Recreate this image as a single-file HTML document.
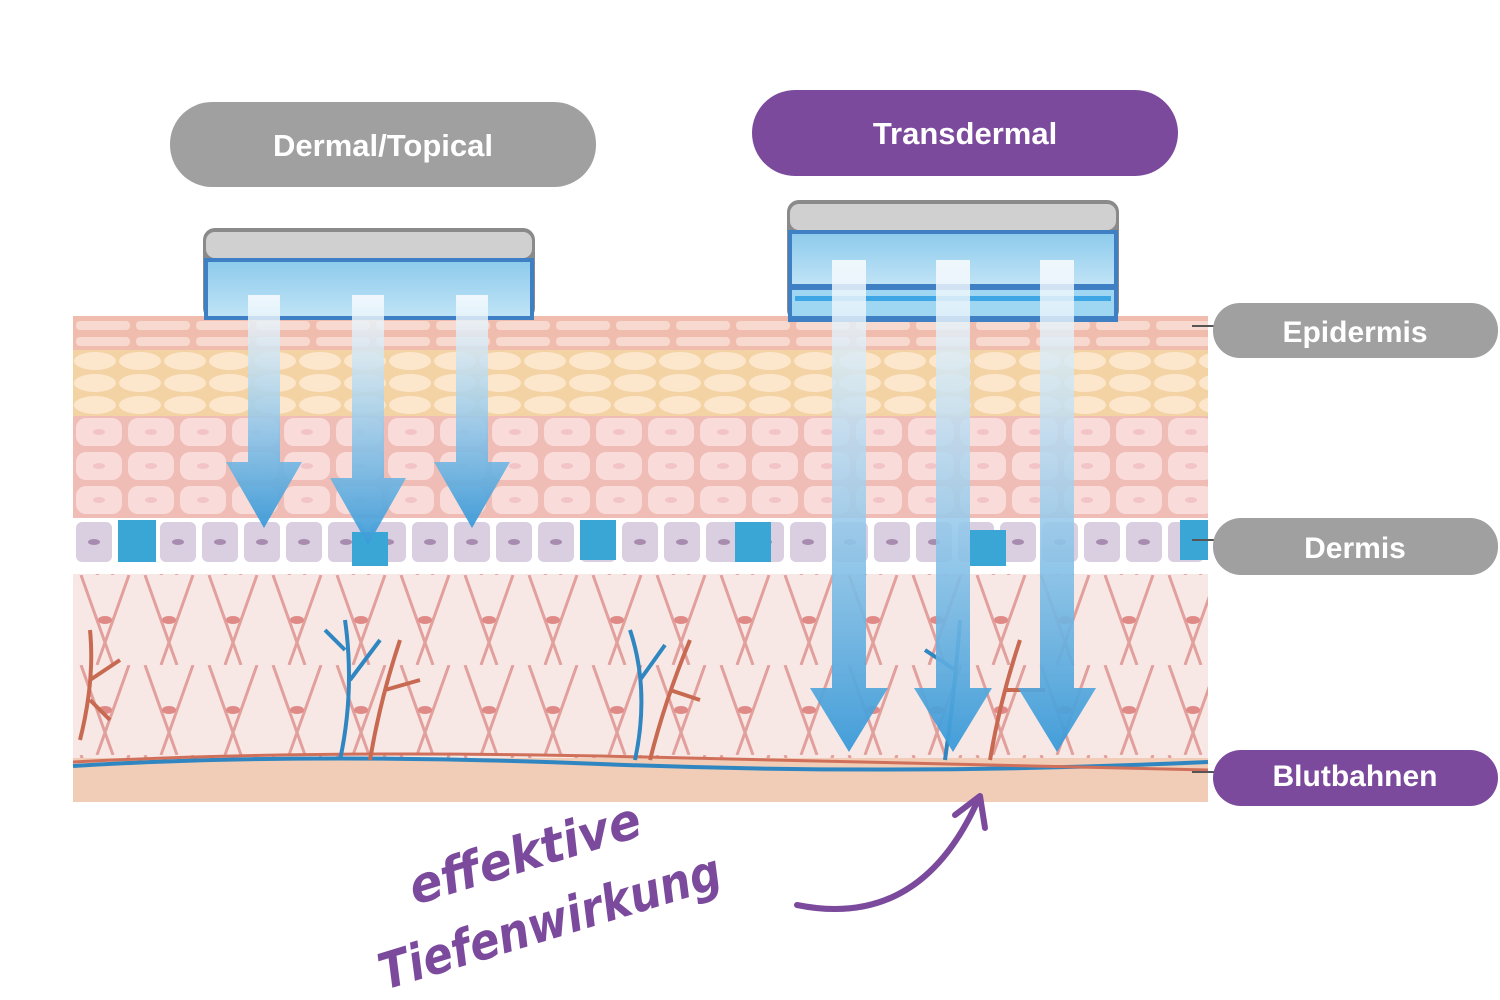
<!DOCTYPE html>
<html><head><meta charset="utf-8"><style>
html,body{margin:0;padding:0;background:#fff;width:1500px;height:1000px;overflow:hidden}
svg{display:block}
</style></head><body>
<svg width="1500" height="1000" viewBox="0 0 1500 1000" xmlns="http://www.w3.org/2000/svg">
<defs>
<pattern id="brick" x="73" y="318" width="60" height="16" patternUnits="userSpaceOnUse">
<rect width="60" height="16" fill="#efbcae"/>
<rect x="3" y="3" width="54" height="9" rx="4" fill="#f8d9cf"/>
</pattern>
<pattern id="orange" x="73" y="350" width="90" height="22" patternUnits="userSpaceOnUse">
<rect width="90" height="22" fill="#f3d2a4"/>
<ellipse cx="22" cy="11" rx="21" ry="9" fill="#fce6cc"/>
<ellipse cx="67" cy="11" rx="21" ry="9" fill="#fce6cc"/>
</pattern>
<pattern id="pink" x="73" y="415" width="52" height="34" patternUnits="userSpaceOnUse">
<rect width="52" height="34" fill="#f0bcb6"/>
<rect x="3" y="3" width="46" height="28" rx="10" fill="#f9dcd9"/>
<ellipse cx="26" cy="17" rx="6" ry="3" fill="#f2c4c8"/>
</pattern>
<pattern id="basal" x="73" y="518" width="42" height="50" patternUnits="userSpaceOnUse">
<rect width="42" height="50" fill="#fff"/>
<rect x="3" y="4" width="36" height="40" rx="6" fill="#d9cfe0"/>
<ellipse cx="21" cy="24" rx="6" ry="3" fill="#a78cb0"/>
</pattern>
<pattern id="fib" x="73" y="575" width="64" height="90" patternUnits="userSpaceOnUse">
<rect width="64" height="90" fill="#f7e8e6"/>
<path d="M8 0 L40 90 M56 0 L24 90" stroke="#e2a09c" stroke-width="3" fill="none"/>
<ellipse cx="32" cy="45" rx="7" ry="4" fill="#e08a88"/>
</pattern>
<linearGradient id="ag" x1="0" y1="0" x2="0" y2="1">
<stop offset="0" stop-color="#ffffff" stop-opacity="0.8"/>
<stop offset="1" stop-color="#3a9ad8" stop-opacity="0.95"/>
</linearGradient>
<linearGradient id="pg" x1="0" y1="0" x2="0" y2="1">
<stop offset="0" stop-color="#8ecbec"/><stop offset="1" stop-color="#bfe3f6"/>
</linearGradient>
</defs>

<rect x="73" y="316" width="1135" height="34" fill="url(#brick)"/>
<rect x="73" y="350" width="1135" height="66" fill="url(#orange)"/>
<rect x="73" y="416" width="1135" height="104" fill="url(#pink)"/>
<rect x="73" y="518" width="1135" height="52" fill="url(#basal)"/>
<g fill="#3aa6d6">
<rect x="118" y="520" width="38" height="42"/><rect x="352" y="532" width="36" height="36"/><rect x="580" y="520" width="36" height="40"/><rect x="735" y="522" width="36" height="40"/><rect x="970" y="530" width="36" height="36"/><rect x="1180" y="520" width="28" height="40"/>
</g>
<rect x="73" y="566" width="1135" height="8" fill="#fff"/>
<rect x="73" y="574" width="1135" height="186" fill="url(#fib)"/>
<rect x="73" y="758" width="1135" height="44" fill="#f1ccb6"/>
<path d="M73 766 Q300 752 600 764 T1208 762" stroke="#2f86c0" stroke-width="4" fill="none"/>
<path d="M73 762 Q300 750 600 756 T1208 770" stroke="#d0705a" stroke-width="3" fill="none"/>
<g stroke="#2f86c0" stroke-width="4" fill="none">
<path d="M340 760 Q355 690 345 620 M350 680 L380 640 M345 650 L325 630"/>
<path d="M635 760 Q650 690 630 630 M640 680 L665 645"/>
<path d="M945 760 Q955 690 960 620 M955 670 L925 650"/>
</g>
<g stroke="#c86a52" stroke-width="4" fill="none">
<path d="M80 740 Q95 680 90 630 M90 680 L120 660 M90 700 L110 720"/>
<path d="M370 760 Q380 700 400 640 M385 690 L420 680"/>
<path d="M650 760 Q665 700 690 640 M670 690 L700 700"/>
<path d="M990 760 Q1000 700 1020 640 M1005 690 L1045 690"/>
</g>

<rect x="203" y="228" width="332" height="92" rx="12" fill="#8a8a8a"/>
<rect x="206" y="232" width="326" height="26" rx="9" fill="#d0d0d0"/>
<rect x="204" y="258" width="330" height="62" fill="#3f7fc4"/>
<rect x="208" y="262" width="322" height="54" fill="url(#pg)"/>
<rect x="787" y="200" width="332" height="122" rx="12" fill="#8a8a8a"/>
<rect x="790" y="204" width="326" height="26" rx="9" fill="#d0d0d0"/>
<rect x="788" y="230" width="330" height="92" fill="#3f7fc4"/>
<rect x="792" y="234" width="322" height="50" fill="url(#pg)"/>
<rect x="792" y="290" width="322" height="26" fill="#9fd6f2"/>
<rect x="795" y="296" width="316" height="5" fill="#3fa6e6"/>

<g fill="url(#ag)">
<path d="M248 295 H280 V462 H302 L264 528 L226 462 H248 Z"/>
<path d="M352 295 H384 V478 H406 L368 545 L330 478 H352 Z"/>
<path d="M456 295 H488 V462 H510 L472 528 L434 462 H456 Z"/>
</g>
<g fill="url(#ag)">
<path d="M832 260 H866 V688 H888 L849 752 L810 688 H832 Z"/>
<path d="M936 260 H970 V688 H992 L953 752 L914 688 H936 Z"/>
<path d="M1040 260 H1074 V688 H1096 L1057 752 L1018 688 H1040 Z"/>
</g>

<rect x="170" y="102" width="426" height="85" rx="42" fill="#a0a0a0"/>
<text x="383" y="156" text-anchor="middle" font-family="Liberation Sans, sans-serif" font-weight="bold" font-size="31" fill="#fff">Dermal/Topical</text>
<rect x="752" y="90" width="426" height="86" rx="43" fill="#7b4a9c"/>
<text x="965" y="144" text-anchor="middle" font-family="Liberation Sans, sans-serif" font-weight="bold" font-size="31" fill="#fff">Transdermal</text>

<g stroke="#555" stroke-width="2"><line x1="1192" y1="326" x2="1215" y2="326"/><line x1="1192" y1="540" x2="1215" y2="540"/><line x1="1192" y1="772" x2="1215" y2="772"/></g>
<rect x="1213" y="303" width="285" height="55" rx="27" fill="#a0a0a0"/>
<text x="1355" y="342" text-anchor="middle" font-family="Liberation Sans, sans-serif" font-weight="bold" font-size="30" fill="#fff">Epidermis</text>
<rect x="1213" y="518" width="285" height="57" rx="28" fill="#a0a0a0"/>
<text x="1355" y="558" text-anchor="middle" font-family="Liberation Sans, sans-serif" font-weight="bold" font-size="30" fill="#fff">Dermis</text>
<rect x="1213" y="750" width="285" height="56" rx="28" fill="#7b4a9c"/>
<text x="1355" y="786" text-anchor="middle" font-family="Liberation Sans, sans-serif" font-weight="bold" font-size="30" fill="#fff">Blutbahnen</text>

<g font-family="DejaVu Sans, sans-serif" font-size="50" font-weight="bold" fill="#7b4a9c" font-style="italic">
<text transform="translate(415 905) rotate(-17)" textLength="240" lengthAdjust="spacingAndGlyphs">effektive</text>
<text transform="translate(385 990) rotate(-17)" textLength="355" lengthAdjust="spacingAndGlyphs">Tiefenwirkung</text>
</g>
<path d="M797 905 Q920 930 978 800" stroke="#7b4a9c" stroke-width="6" fill="none" stroke-linecap="round"/>
<path d="M955 815 L980 796 L985 828" stroke="#7b4a9c" stroke-width="6" fill="none" stroke-linecap="round" stroke-linejoin="round"/>
</svg>
</body></html>
